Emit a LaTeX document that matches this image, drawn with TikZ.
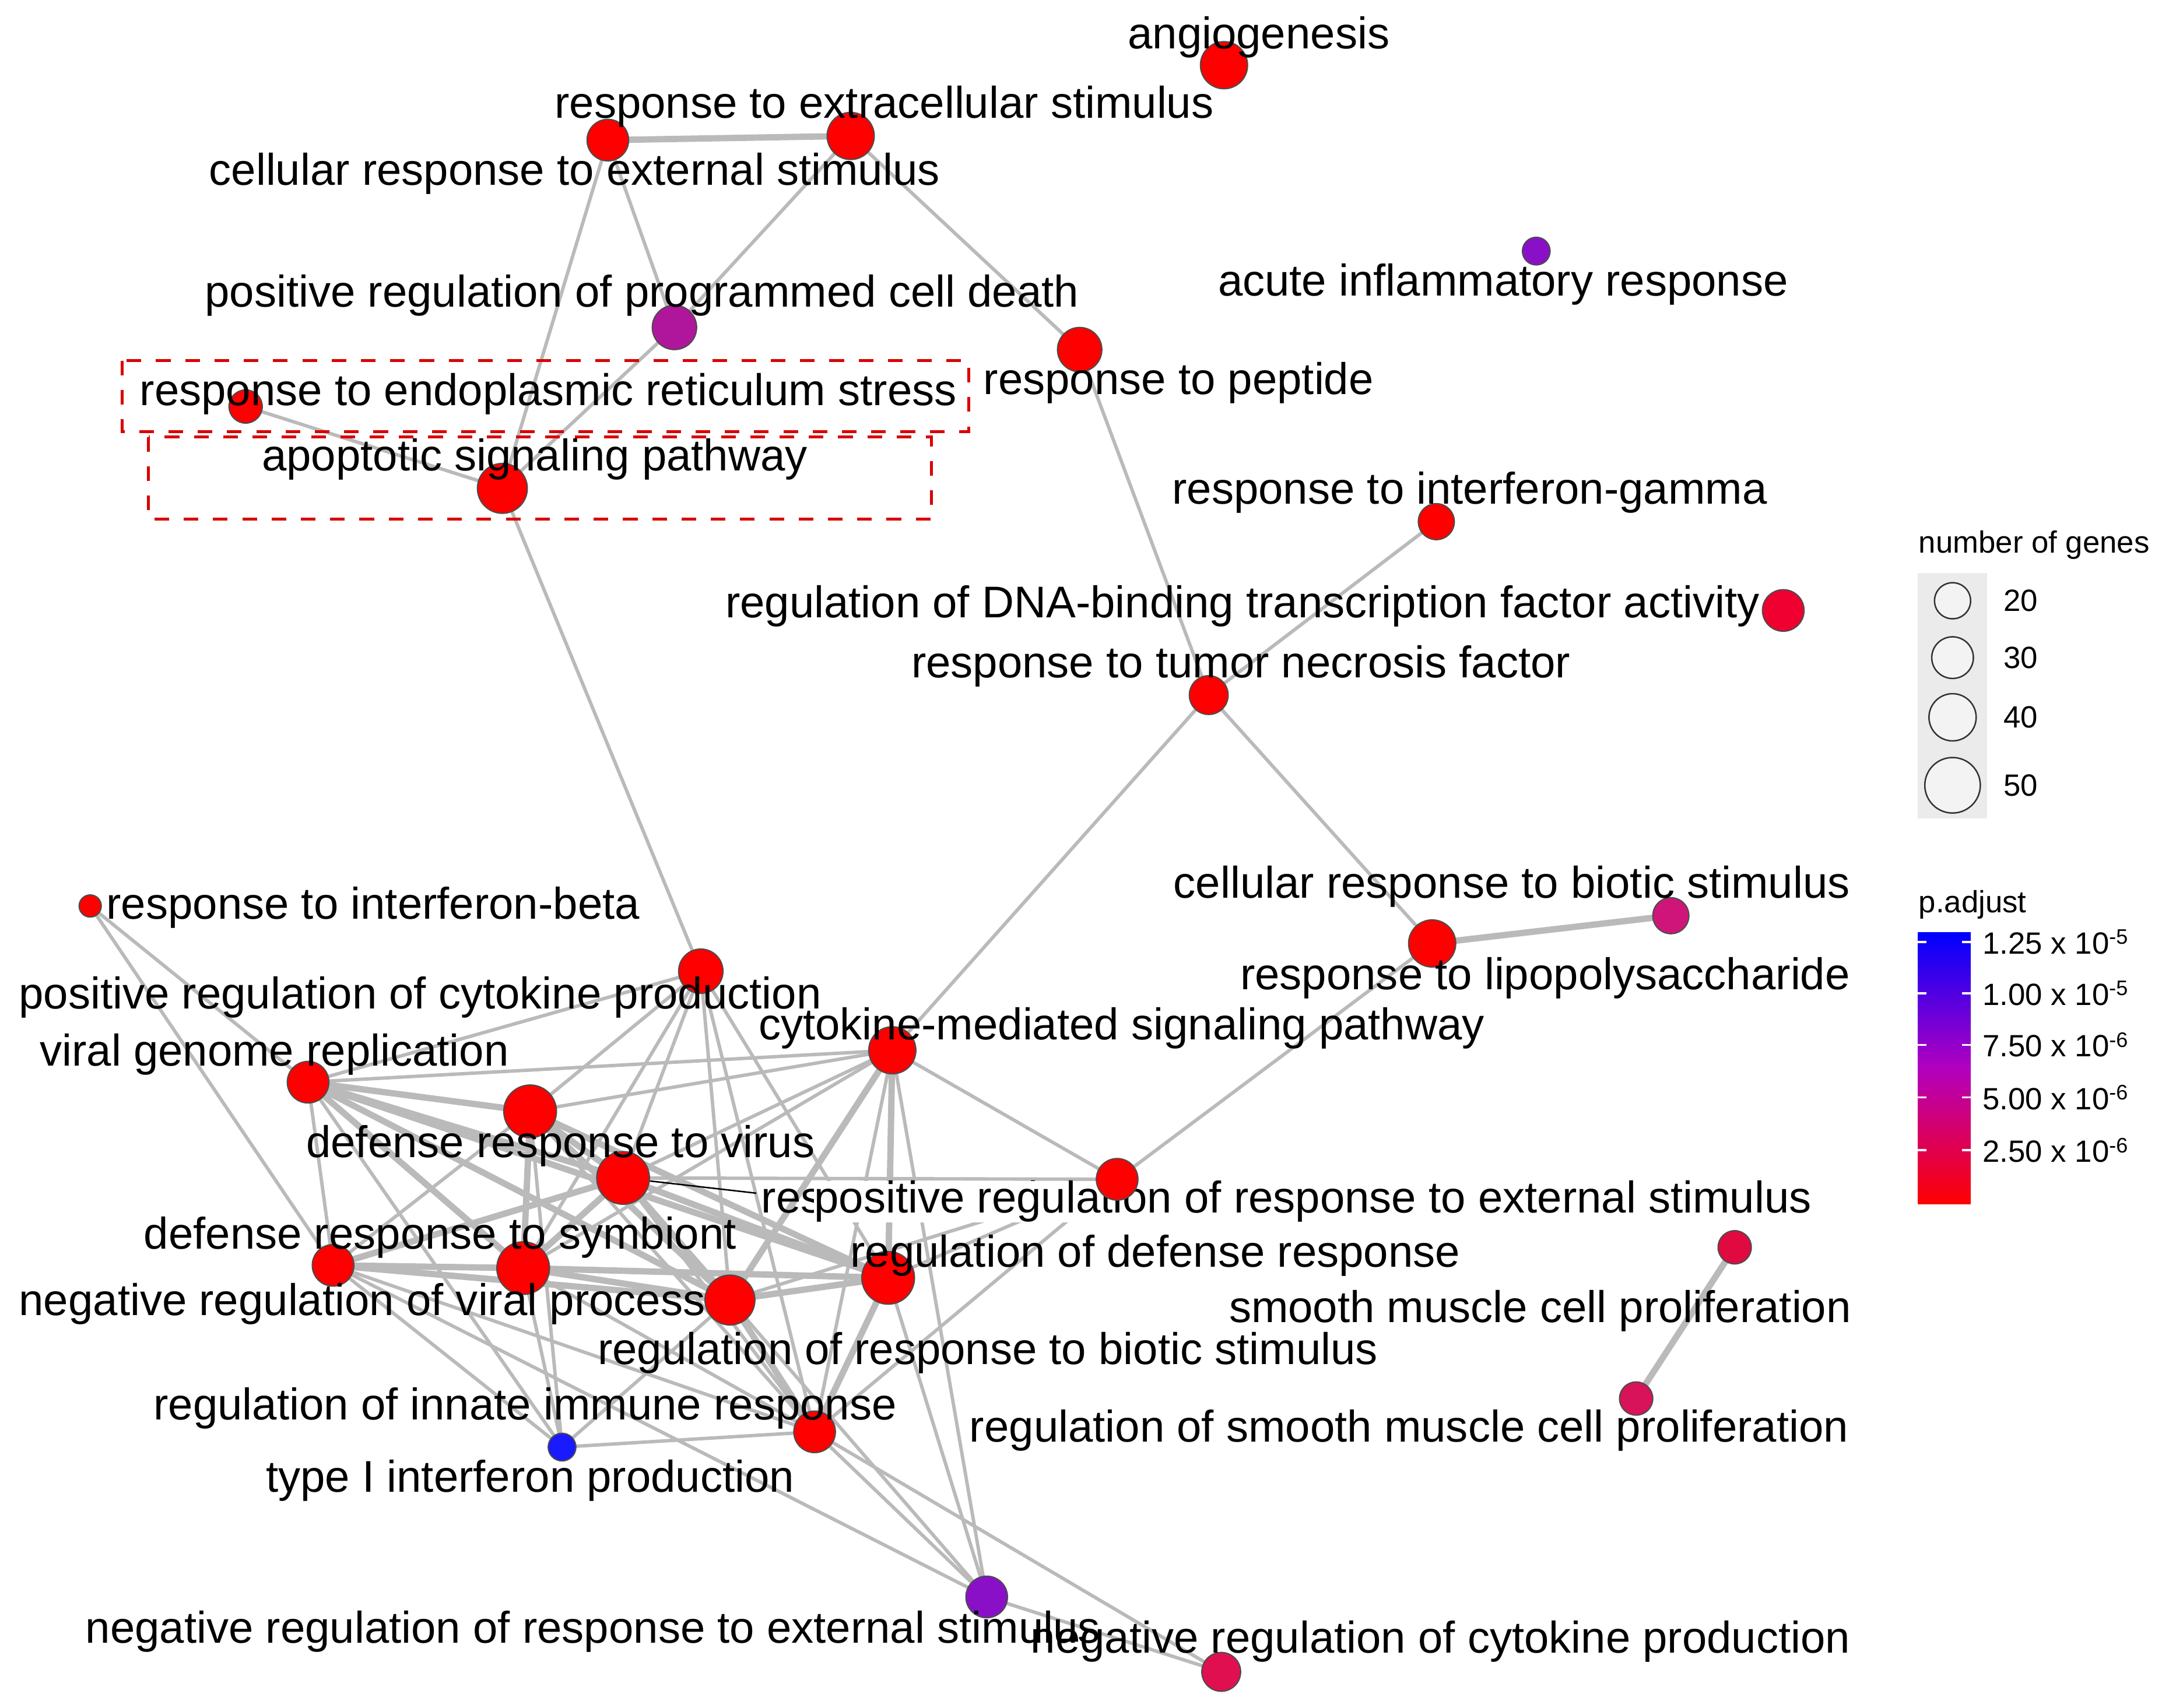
\documentclass[tikz,border=0pt]{standalone}
\usepackage{fontspec}
\setmainfont{Liberation Sans}
\begin{document}
\begin{tikzpicture}[x=0.01cm,y=-0.01cm,
 gn/.style={circle,draw=black!70,line width=0.25pt,inner sep=0pt},
 e/.style={draw=black!27,line width=0.7pt},
 E/.style={draw=black!27,line width=1.3pt},
 lb/.style={anchor=west,inner sep=0pt,font=\fontsize{9.1}{10}\selectfont},
 lg/.style={anchor=west,inner sep=0pt,font=\fontsize{6.3}{7}\selectfont},
 box/.style={draw=red!85!black,dashed,line width=0.6pt}]
\useasboundingbox (0,0) rectangle (1568,1231);
\definecolor{pd}{HTML}{B0169B}\definecolor{cb}{HTML}{D0157A}
\definecolor{t1}{HTML}{1A1AFF}\definecolor{pu}{HTML}{8A10C8}
\definecolor{sm}{HTML}{E00A40}\definecolor{rs}{HTML}{D8135A}
\definecolor{nc}{HTML}{E01050}\definecolor{db}{HTML}{F00030}
\definecolor{lgbg}{HTML}{EBEBEB}
% node coordinates
\coordinate (ANG) at (882,47); \coordinate (EX) at (613,98); \coordinate (CE) at (438,101);
\coordinate (AI) at (1107,181); \coordinate (PD) at (486,236); \coordinate (PE) at (778,252);
\coordinate (ER) at (177,293); \coordinate (AP) at (362,352); \coordinate (IG) at (1035,376);
\coordinate (DB) at (1285,440); \coordinate (TN) at (871,501); \coordinate (CB) at (1204,660);
\coordinate (LP) at (1032,680); \coordinate (IB) at (65,653); \coordinate (PC) at (505,700);
\coordinate (VG) at (222,780); \coordinate (CM) at (643,757); \coordinate (V1) at (382,801);
\coordinate (V2) at (449,849); \coordinate (PR) at (805,850); \coordinate (DS) at (240,912);
\coordinate (NV) at (377,914); \coordinate (N5) at (526,937); \coordinate (RD) at (640,921);
\coordinate (SM) at (1250,899); \coordinate (RS) at (1179,1008); \coordinate (RI) at (587,1032);
\coordinate (T1) at (405,1043); \coordinate (NR) at (711,1151); \coordinate (NC) at (880,1205);
% edges
\draw[E] (CE)--(EX); \draw[e] (CE)--(AP); \draw[e] (CE)--(PD); \draw[e] (EX)--(PD);
\draw[e] (EX)--(PE); \draw[e] (PD)--(AP); \draw[e] (ER)--(AP); \draw[e] (AP)--(PC);
\draw[e] (PE)--(TN); \draw[e] (IG)--(TN); \draw[e] (TN)--(CM); \draw[e] (TN)--(LP);
\draw[E] (LP)--(CB); \draw[e] (LP)--(PR); \draw[E] (SM)--(RS);
\draw[e] (IB)--(VG); \draw[e] (IB)--(DS);
\foreach \a/\b in {VG/V1,VG/V2,VG/NV,VG/N5,V1/V2,V1/NV,V1/N5,V1/RD,V2/NV,V2/N5,V2/RD,DS/NV,DS/N5,NV/N5,NV/RD,N5/RD,DS/V2,VG/RD,CM/RD,CM/N5,RD/RI,N5/RI}
  \draw[E] (\a)--(\b);
\foreach \a/\b in {VG/DS,VG/CM,V1/CM,V2/CM,PC/V1,PC/V2,PC/N5,PC/RD,PC/RI,PC/VG,PC/NV,DS/RI,NV/RI,V1/RI,V2/RI,CM/RI,CM/NV,T1/DS,T1/NV,T1/RI,T1/N5,T1/V1,NR/RI,NR/N5,NR/CM,NR/RD,NR/DS,NC/RI,NC/NR,PR/CM,PR/V2,PR/RD,PR/RI,PR/N5,DS/V1,VG/T1}
  \draw[e] (\a)--(\b);
\draw[black,line width=0.3pt] (V2)--(545,860);
% nodes
\foreach \n/\c/\s in {ANG/red/34,EX/red/34,CE/red/30,AI/pu/20,PD/pd/32,PE/red/32,ER/red/24,AP/red/36,IG/red/26,DB/db/30,TN/red/28,CB/cb/26,LP/red/34,IB/red/16,PC/red/32,VG/red/30,CM/red/34,V1/red/38,V2/red/38,DS/red/30,NV/red/38,N5/red/36,RD/red/38,SM/sm/24,RS/rs/24,RI/red/30,T1/t1/20,NR/pu/30,NC/nc/28}
  \node[gn,fill=\c,minimum size=\s*0.01cm] (n\n) at (\n) {};
% labels
\node[lb] (l1) at (812,27) {angiogenesis};
\node[lb] (l2) at (399,77) {response to extracellular stimulus};
\node[lb] (l3) at (150,125) {cellular response to external stimulus};
\node[lb] (l4) at (877,205) {acute inflammatory response};
\node[lb] (l5) at (147,213) {positive regulation of programmed cell death};
\node[lb] (l6) at (708,276) {response to peptide};
\node[lb] (l7) at (100,284) {response to endoplasmic reticulum stress};
\node[lb] (l8) at (188,331) {apoptotic signaling pathway};
\node[lb] (l9) at (844,355) {response to interferon-gamma};
\node[lb] (l10) at (522,437) {regulation of DNA-binding transcription factor activity};
\node[lb] (l11) at (656,480) {response to tumor necrosis factor};
\node[lb] (l12) at (845,639) {cellular response to biotic stimulus};
\node[lb] (l13) at (893,705) {response to lipopolysaccharide};
\node[lb] (l14) at (76,654) {response to interferon-beta};
\node[lb] (l15) at (13,719) {positive regulation of cytokine production};
\node[lb] (l16) at (28,760) {viral genome replication};
\node[lb] (l17) at (546,741) {cytokine-mediated signaling pathway};
\node[lb] (l18) at (220,826) {defense response to virus};
\node[lb] (l19) at (548,866) {response to virus};
\node[lb,fill=white] (l20) at (586,866) {positive regulation of response to external stimulus};
\node[gn,fill=red,minimum size=0.30cm] (nPR) at (PR) {};
\node[lb] (l21) at (103,892) {defense response to symbiont};
\node[lb] (l22) at (612,905) {regulation of defense response};
\node[lb] (l23) at (13,940) {negative regulation of viral process};
\node[lb] (l24) at (885,945) {smooth muscle cell proliferation};
\node[lb] (l25) at (430,975) {regulation of response to biotic stimulus};
\node[lb] (l26) at (110,1015) {regulation of innate immune response};
\node[lb] (l27) at (698,1031) {regulation of smooth muscle cell proliferation};
\node[lb] (l28) at (191,1067) {type I interferon production};
\node[lb] (l29) at (61,1176) {negative regulation of response to external stimulus};
\node[lb] (l30) at (742,1183) {negative regulation of cytokine production};
\draw[box] (88,260) rectangle (698,311);
\draw[box] (107,315) rectangle (671,374);
% legend
\node[lg] (g0) at (1382,393) {number of genes};
\fill[lgbg] (1382,413) rectangle (1432,590);
\foreach \y/\s/\t in {433/26/20,474/30/30,517/34/40,566/40/50}{
  \node[circle,draw=black!80,line width=0.3pt,fill=lgbg!60,minimum size=\s*0.01cm,inner sep=0pt] at (1407,\y) {};
  \node[lg] at (1443,\y) {\t};}
\node[lg] (g1) at (1382,652) {p.adjust};
\shade[top color=blue, bottom color=red, middle color={rgb,1:red,0.7;green,0;blue,0.75}] (1382,672) rectangle (1420,868);
\foreach \y/\t/\x in {679/1.25/5,716/1.00/5,753/7.50/6,791/5.00/6,829/2.50/6}{
  \draw[white,line width=0.4pt] (1382,\y)--(1388,\y) (1414,\y)--(1420,\y);
  \node[lg] at (1428,\y) {\t\ x 10\raisebox{0.6ex}{\fontsize{4.3}{5}\selectfont -\x}};}
\end{tikzpicture}
\end{document}
